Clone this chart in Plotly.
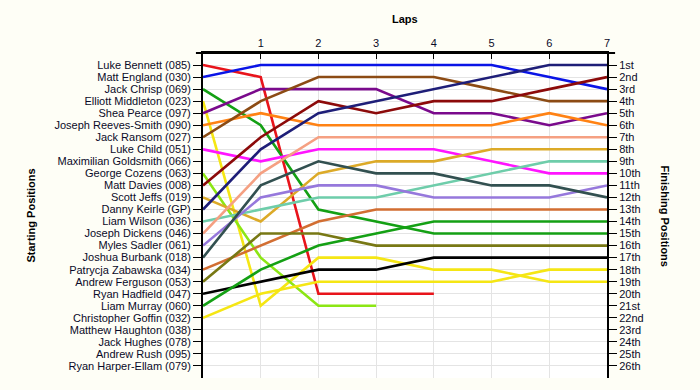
import plotly.graph_objects as go

laps = [0, 1, 2, 3, 4, 5, 6, 7]
lap_tick_text = ["", "1", "2", "3", "4", "5", "6", "7"]

start_labels = [
    "Luke Bennett (085)", "Matt England (030)", "Jack Chrisp (069)",
    "Elliott Middleton (023)", "Shea Pearce (097)", "Joseph Reeves-Smith (090)",
    "Jack Ransom (027)", "Luke Child (051)", "Maximilian Goldsmith (066)",
    "George Cozens (063)", "Matt Davies (008)", "Scott Jeffs (019)",
    "Danny Keirle (GP)", "Liam Wilson (036)", "Joseph Dickens (046)",
    "Myles Sadler (061)", "Joshua Burbank (018)", "Patrycja Zabawska (034)",
    "Andrew Ferguson (053)", "Ryan Hadfield (047)", "Liam Murray (060)",
    "Christopher Goffin (032)", "Matthew Haughton (038)", "Jack Hughes (078)",
    "Andrew Rush (095)", "Ryan Harper-Ellam (079)",
]
finish_labels = [
    "1st", "2nd", "3rd", "4th", "5th", "6th", "7th", "8th", "9th", "10th",
    "11th", "12th", "13th", "14th", "15th", "16th", "17th", "18th", "19th",
    "20th", "21st", "22nd", "23rd", "24th", "25th", "26th",
]

# positions per lap (lap 0 = grid)
luke_bennett = [1, 2, 20, 20, 20]
matt_england = [2, 1, 1, 1, 1, 1, 2, 3]
jack_chrisp = [3, 6, 13, 14, 15, 15, 15, 15]
elliott_middleton = [4, 21, 17, 17, 18, 18, 19, 19]
shea_pearce = [5, 3, 3, 3, 5, 5, 6, 5]
joseph_reeves_smith = [6, 5, 6, 6, 6, 6, 5, 6]
jack_ransom = [7, 4, 2, 2, 2, 3, 4, 4]
luke_child = [8, 9, 8, 8, 8, 9, 10, 10]
george_cozens = [10, 17, 21, 21]
matt_davies = [11, 7, 4, 5, 4, 4, 3, 2]
scott_jeffs = [12, 14, 10, 9, 9, 8, 8, 8]
danny_keirle = [13, 8, 5, 4, 3, 2, 1, 1]
liam_wilson = [14, 13, 12, 12, 11, 10, 9, 9]
joseph_dickens = [15, 10, 7, 7, 7, 7, 7, 7]
myles_sadler = [16, 12, 11, 11, 12, 12, 12, 11]
joshua_burbank = [17, 11, 9, 10, 10, 11, 11, 12]
patrycja_zabawska = [18, 16, 14, 13, 13, 13, 13, 13]
andrew_ferguson = [19, 15, 15, 16, 16, 16, 16, 16]
ryan_hadfield = [20, 19, 18, 18, 17, 17, 17, 17]
liam_murray = [21, 18, 16, 15, 14, 14, 14, 14]
christopher_goffin = [22, 20, 19, 19, 19, 19, 18, 18]

series = [
    ("Luke Bennett (085)", luke_bennett, "#E8141B"),
    ("Matt England (030)", matt_england, "#0A14E6"),
    ("Jack Chrisp (069)", jack_chrisp, "#14A014"),
    ("Elliott Middleton (023)", elliott_middleton, "#F5E614"),
    ("Shea Pearce (097)", shea_pearce, "#7A0A8C"),
    ("Joseph Reeves-Smith (090)", joseph_reeves_smith, "#FF8214"),
    ("Jack Ransom (027)", jack_ransom, "#8C4B14"),
    ("Luke Child (051)", luke_child, "#FF14FF"),
    ("George Cozens (063)", george_cozens, "#8CE614"),
    ("Matt Davies (008)", matt_davies, "#8C0A0A"),
    ("Scott Jeffs (019)", scott_jeffs, "#DCAA28"),
    ("Danny Keirle (GP)", danny_keirle, "#1E1E78"),
    ("Liam Wilson (036)", liam_wilson, "#6ECDAA"),
    ("Joseph Dickens (046)", joseph_dickens, "#F5A082"),
    ("Myles Sadler (061)", myles_sadler, "#9678DC"),
    ("Joshua Burbank (018)", joshua_burbank, "#325050"),
    ("Patrycja Zabawska (034)", patrycja_zabawska, "#D26E32"),
    ("Andrew Ferguson (053)", andrew_ferguson, "#787814"),
    ("Ryan Hadfield (047)", ryan_hadfield, "#000000"),
    ("Liam Murray (060)", liam_murray, "#14A014"),
    ("Christopher Goffin (032)", christopher_goffin, "#F5E614"),
]

fig = go.Figure()
for name, pos, col in series:
    fig.add_trace(go.Scatter(
        x=laps[:len(pos)], y=pos, mode="lines", name=name,
        line=dict(color=col, width=2.6), hoverinfo="name+y",
    ))

# invisible trace to activate the right-hand axis
fig.add_trace(go.Scatter(x=[0], y=[1], yaxis="y2", mode="markers",
                         marker=dict(opacity=0), showlegend=False, hoverinfo="skip"))

font_fam = "Liberation Sans, Arial, sans-serif"
txt_col = "#0a0a28"

fig.update_layout(
    width=700, height=390,
    margin=dict(l=203, r=93, t=53, b=12),
    paper_bgcolor="#FEFEF6",
    plot_bgcolor="#FFFFFF",
    showlegend=False,
    font=dict(family=font_fam, size=11, color=txt_col),
    xaxis=dict(
        side="top", range=[0, 7], tickvals=laps, ticktext=lap_tick_text,
        ticks="inside", ticklen=6, tickcolor="black", showline=True,
        linecolor="black", linewidth=2, showgrid=True, gridcolor="#E4E4E4",
        gridwidth=1, zeroline=False, tickfont=dict(size=11, color=txt_col),
    ),
    yaxis=dict(
        range=[27, 0], tickvals=list(range(1, 27)), ticktext=start_labels,
        ticks="outside", ticklen=8, tickcolor="black", showline=True,
        linecolor="black", linewidth=2, showgrid=True, gridcolor="#E4E4E4",
        gridwidth=1, zeroline=False,
    ),
    yaxis2=dict(
        overlaying="y", side="right", range=[27, 0],
        tickvals=list(range(1, 27)), ticktext=finish_labels,
        ticks="outside", ticklen=8, tickcolor="black", showline=True,
        linecolor="black", linewidth=2, showgrid=False, zeroline=False,
    ),
    shapes=[
        dict(type="line", xref="paper", yref="paper", x0=-0.0175, x1=1.02,
             y0=1, y1=1, line=dict(color="black", width=2)),
    ],
    annotations=[
        dict(text="<b>Laps</b>", x=0.5, y=1.0, yshift=34, xanchor="center",
             yanchor="middle", xref="paper", yref="paper", showarrow=False,
             font=dict(size=11, color="black")),
        dict(text="<b>Starting Positions</b>", x=0.0, y=0.5, xref="paper",
             yref="paper", xshift=-173, xanchor="center", yanchor="middle",
             showarrow=False, textangle=-90, font=dict(size=11, color="black")),
        dict(text="<b>Finishing Positions</b>", x=1.0, y=0.5, xref="paper",
             yref="paper", xshift=58, xanchor="center", yanchor="middle",
             showarrow=False, textangle=90, font=dict(size=11, color="black")),
    ],
)

fig.write_html(
    "out.html",
    config={"displayModeBar": False},
    post_script="document.body.style.margin='0';document.body.style.overflow='hidden';",
)
